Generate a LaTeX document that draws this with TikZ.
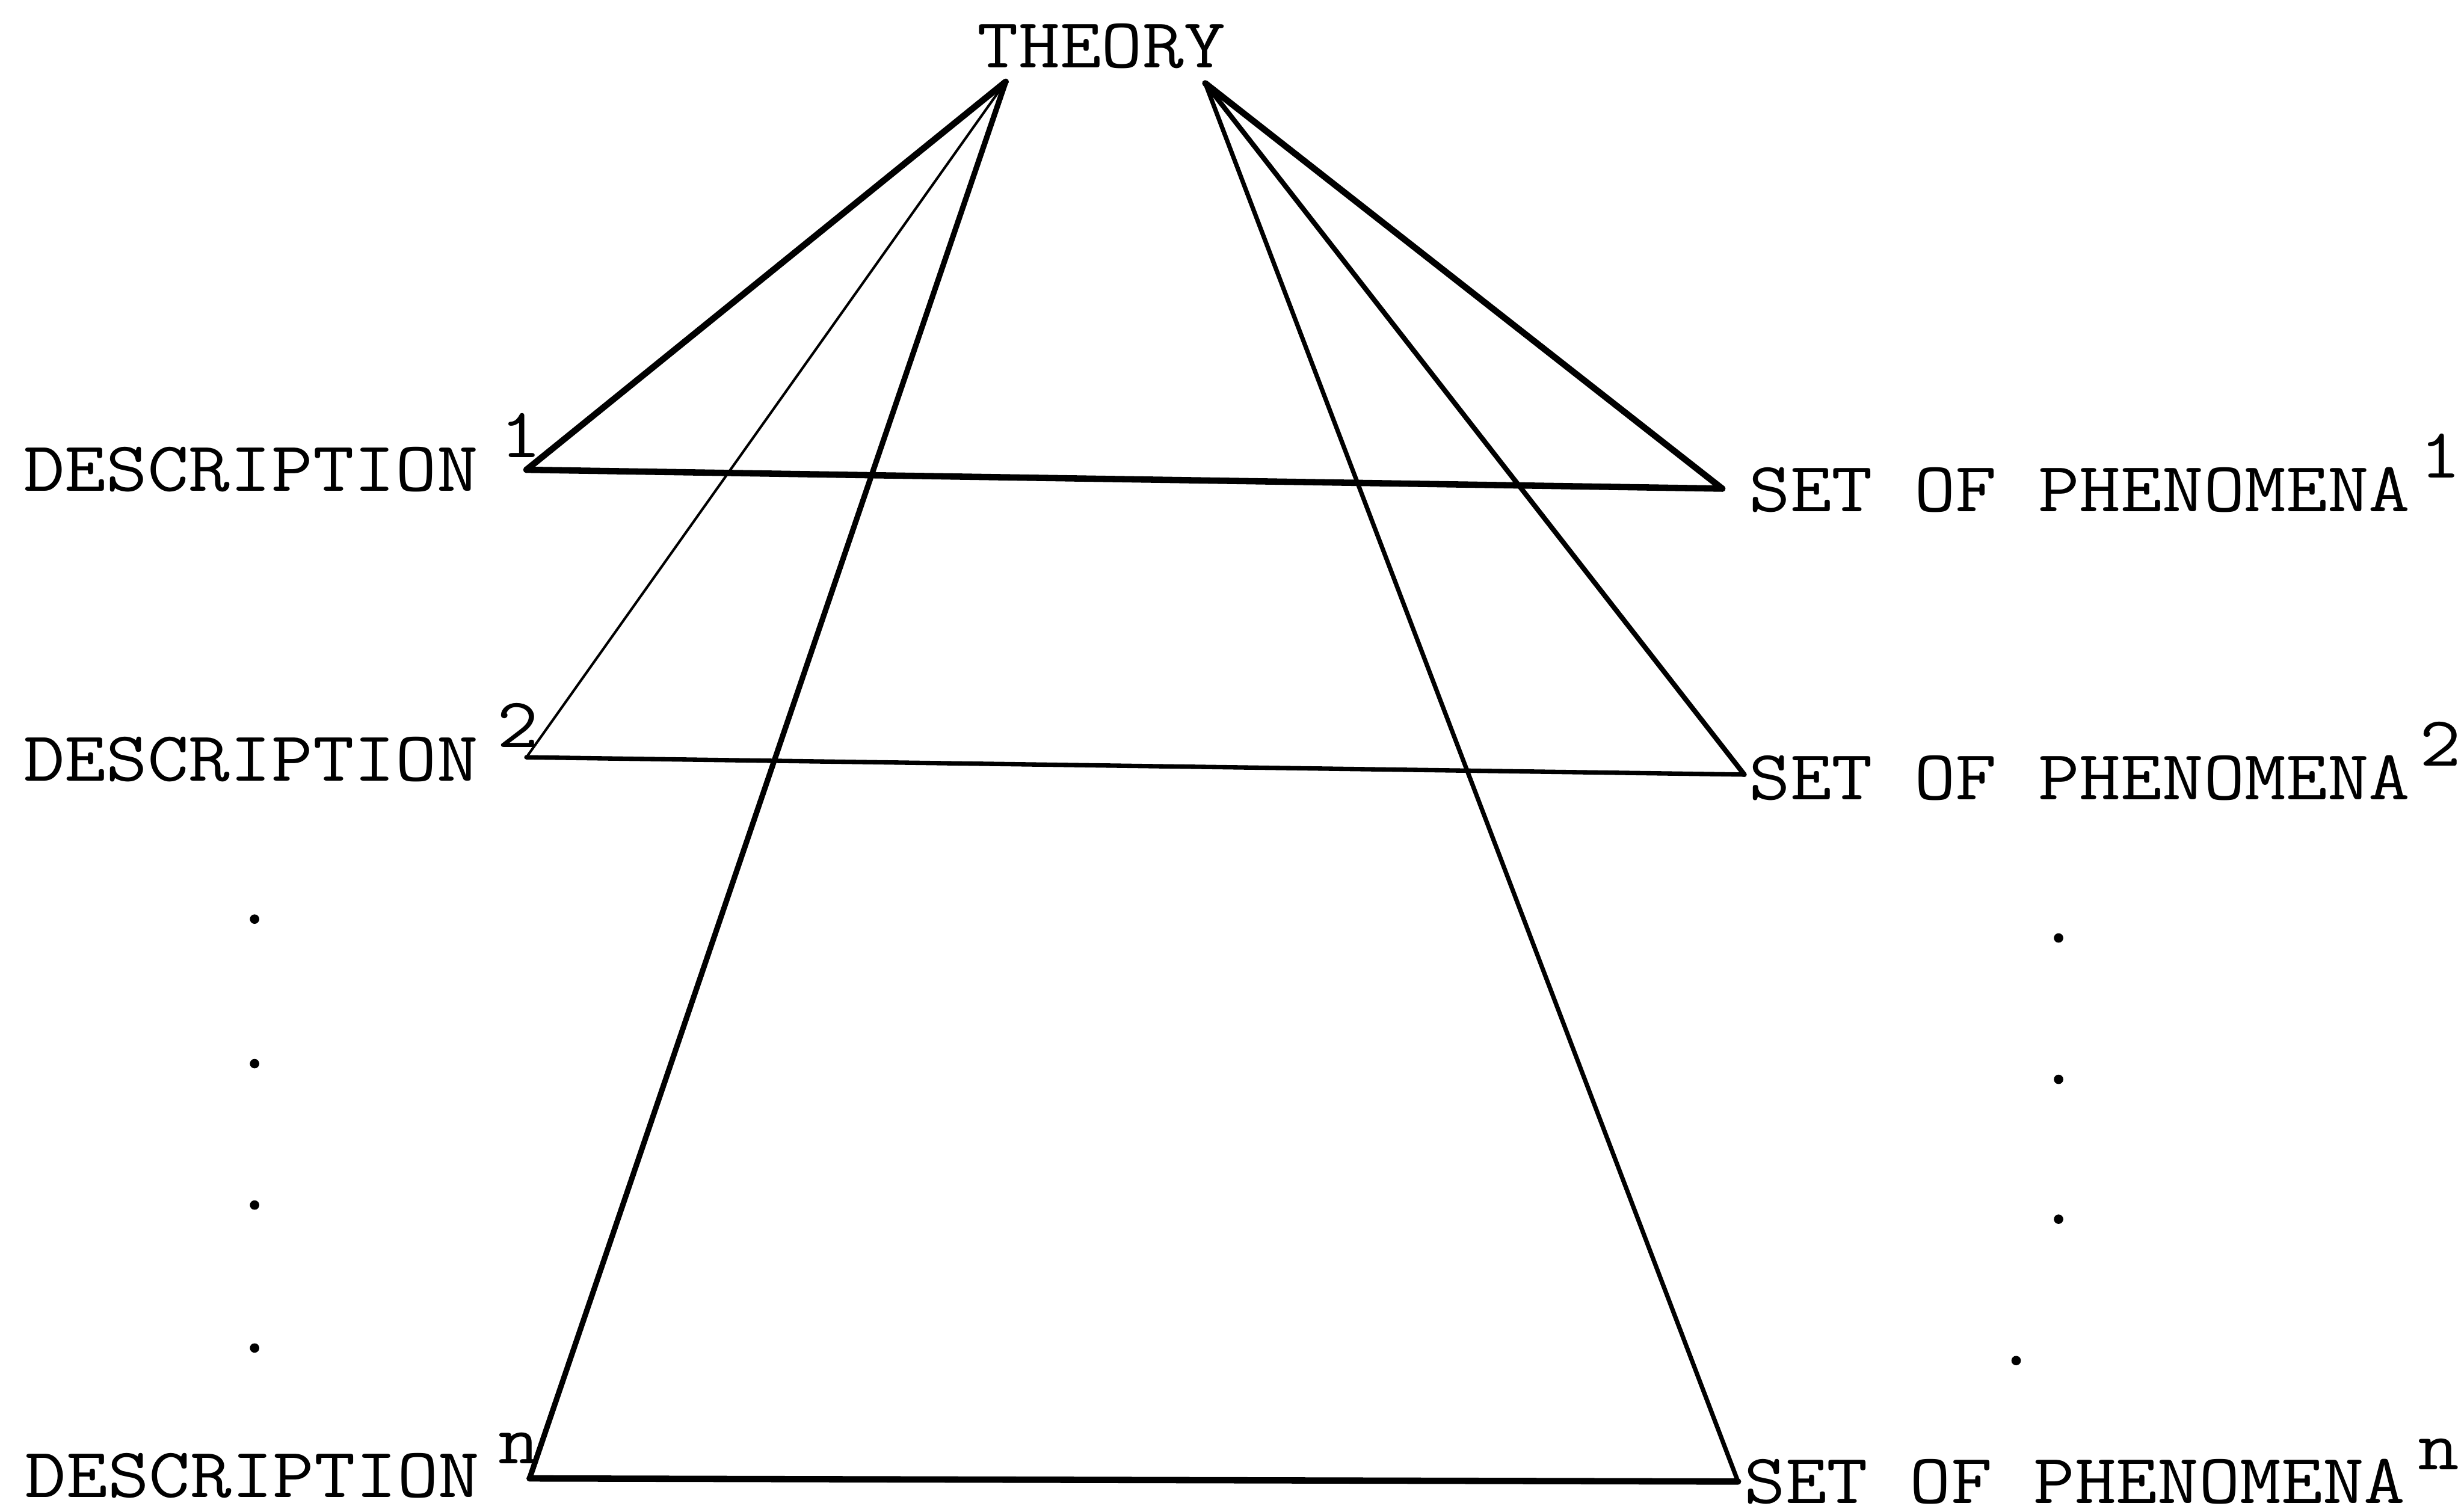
\documentclass[tikz,border=0pt]{standalone}
\usepackage{graphicx}
\newcommand\tw[1]{\scalebox{1.135}[1]{\fontsize{12.8}{15}\selectfont\ttfamily #1}}
\newcommand\sups[2][1.5pt]{\hspace{#1}\raisebox{6.1pt}{#2}}
\tikzset{
  label/.style={anchor=base west, inner sep=0pt, outer sep=0pt},
  heavy/.style={line width=1.15pt, line cap=round, line join=round},
  medium/.style={line width=0.8pt, line cap=round},
  light/.style={line width=0.45pt, line cap=round},
  typedot/.style={fill=black}
}
\begin{document}
\begin{tikzpicture}[x=0.1mm,y=-0.1mm]
\useasboundingbox (0,0) rectangle (1568,962);
% text
\node[label] (theory) at (622,43) {\tw{THEORY}};
\node[label] (d1) at (15,312.6) {\tw{DESCRIPTION\sups[3.5pt]{1}}};
\node[label] (d2) at (15,497) {\tw{DESCRIPTION\sups[3pt]{2}}};
\node[label] (dn) at (16,953) {\tw{DESCRIPTION\sups[3pt]{n}}};
\node[label] (s1) at (1113,325.4) {\tw{SET OF PHENOMENA\sups{1}}};
\node[label] (s2) at (1113,509) {\tw{SET OF PHENOMENA\sups{2}}};
\node[label] (sn) at (1110,957) {\tw{SET OF PHENOMENA\sups[2pt]{n}}};
% connection points
\coordinate (tl) at (640,52);
\coordinate (tr) at (767,53);
\coordinate (d1e) at (335,299);
\coordinate (d2e) at (335,482);
\coordinate (dne) at (337,941);
\coordinate (s1e) at (1096,311);
\coordinate (s2e) at (1110,493);
\coordinate (sne) at (1106,943);
% lines from theory
\draw[heavy] (tl) -- (d1e);
\draw[light] (tl) -- (d2e);
\draw[line width=1pt, line cap=round] (tl) -- (dne);
\draw[heavy] (tr) -- (s1e);
\draw[line width=0.9pt, line cap=round] (tr) -- (s2e);
\draw[line width=0.8pt, line cap=round] (tr) -- (sne);
% horizontal lines
\draw[heavy] (d1e) -- (s1e);
\draw[medium] (d2e) -- (s2e);
\draw[heavy] (dne) -- (sne);
% dots
\foreach \y in {585,677,767,858} \fill[typedot] (162,\y) circle (3);
\foreach \y in {597,687,776} \fill[typedot] (1310,\y) circle (3);
\fill[typedot] (1283,866) circle (3);
\end{tikzpicture}
\end{document}
